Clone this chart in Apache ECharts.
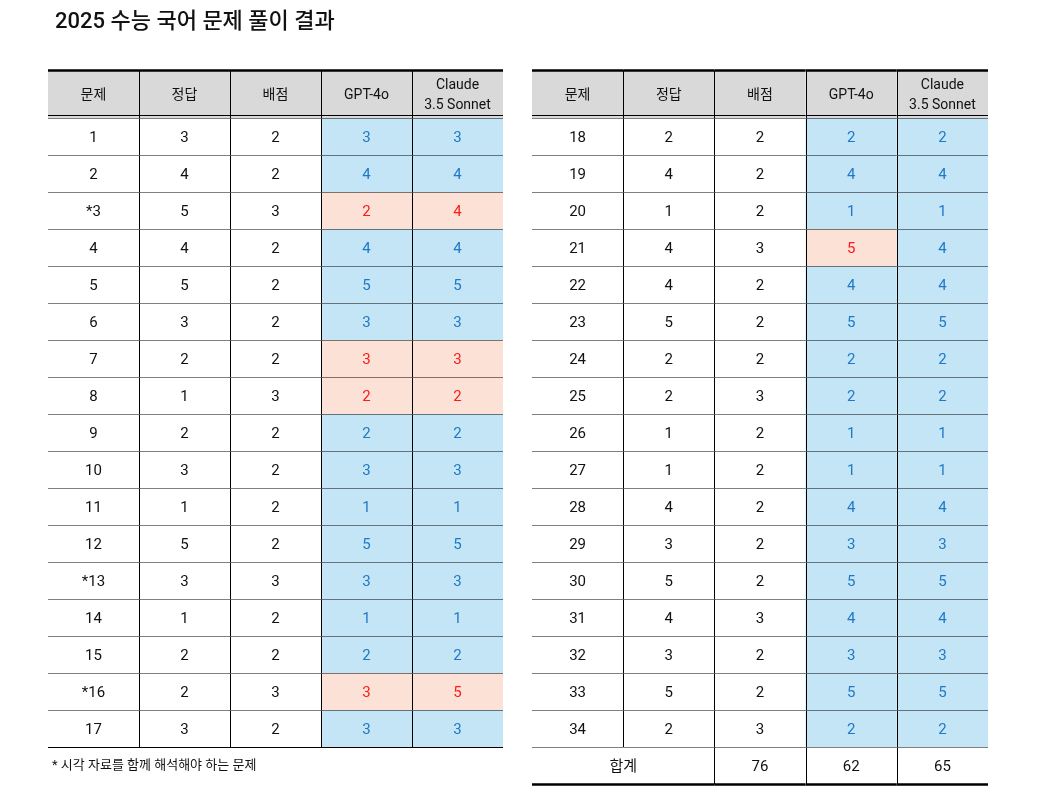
<!DOCTYPE html><html><head><meta charset="utf-8">
<script src="https://cdn.jsdelivr.net/npm/echarts@6/dist/echarts.min.js"></script>
<style>html,body{margin:0;background:#fff}#c{width:1042px;height:790px}</style></head><body><div id="c"></div>
<script>
const headers = ['문제','정답','배점','GPT-4o','Claude\n3.5 Sonnet'];
const leftQ = ['1','2','*3','4','5','6','7','8','9','10','11','12','*13','14','15','*16','17'];
const leftAns = [3,4,5,4,5,3,2,1,2,3,1,5,3,1,2,2,3];
const leftPts = [2,2,3,2,2,2,2,3,2,2,2,2,3,2,2,3,2];
const leftGpt = [3,4,2,4,5,3,3,2,2,3,1,5,3,1,2,3,3];
const leftClaude = [3,4,4,4,5,3,3,2,2,3,1,5,3,1,2,5,3];
const rightQ = ['18','19','20','21','22','23','24','25','26','27','28','29','30','31','32','33','34'];
const rightAns = [2,4,1,4,4,5,2,2,1,1,4,3,5,4,3,5,2];
const rightPts = [2,2,2,3,2,2,2,3,2,2,2,2,2,3,2,2,3];
const rightGpt = [2,4,1,5,4,5,2,2,1,1,4,3,5,4,3,5,2];
const rightClaude = [2,4,1,4,4,5,2,2,1,1,4,3,5,4,3,5,2];
const totalLabel = '합계';
const totals = [76,62,65];
const HEAD = 48/37;
const FONT = 'Roboto,"Noto Sans CJK KR","Noto Sans",sans-serif';

function build(Q,A,P,G,C,withTotal){
  const d=[];
  headers.forEach((h,i)=>d.push([i,i+1,-HEAD,0,h,'head']));
  Q.forEach((q,r)=>{
    d.push([0,1,r,r+1,q,'n']);d.push([1,2,r,r+1,String(A[r]),'n']);d.push([2,3,r,r+1,String(P[r]),'n']);
    d.push([3,4,r,r+1,String(G[r]),G[r]===A[r]?'ok':'bad']);
    d.push([4,5,r,r+1,String(C[r]),C[r]===A[r]?'ok':'bad']);
  });
  if(withTotal){const r=Q.length;
    d.push([0,2,r,r+1,totalLabel,'n']);
    totals.forEach((t,i)=>d.push([i+2,i+3,r,r+1,String(t),'tot']));}
  return d;
}
function renderItem(params,api){
  const c0=api.value(0),c1=api.value(1),r0=api.value(2),r1=api.value(3);
  const txt=api.value(4),kind=api.value(5);
  const p0=api.coord([c0,r0]),p1=api.coord([c1,r1]);
  const x=p0[0],y=p0[1]+0.5,w=p1[0]-p0[0],h=p1[1]-p0[1];
  const fill={head:'#d9d9d9',ok:'#c3e5f5',bad:'#fbe1d6'}[kind]||'#fff';
  const col={ok:'#1f78c8',bad:'#ff1a1a'}[kind]||'#111';
  const ch=[{type:'rect',shape:{x,y,width:w,height:h},style:{fill}},
    {type:'text',style:{text:txt,x:x+w/2,y:y+h/2+1,align:'center',verticalAlign:'middle',fill:col,
      font:(kind==='head'?'14px ':'15px ')+FONT,lineHeight:20}}];
  if(c0>0) ch.push({type:'line',shape:{x1:Math.round(x)+0.5,y1:y,x2:Math.round(x)+0.5,y2:y+h},style:{stroke:'#000',lineWidth:1}});
  const last=kind==='tot'||(kind==='n'&&txt===totalLabel);
  ch.push({type:'line',shape:{x1:x,y1:y+h,x2:x+w,y2:y+h},style:{stroke:'#000',lineWidth:last?2.5:1}});
  if(kind==='head'){
    ch.push({type:'line',shape:{x1:x,y1:y,x2:x+w,y2:y},style:{stroke:'#000',lineWidth:2.5}});
    ch.push({type:'line',shape:{x1:x,y1:y+h-3,x2:x+w,y2:y+h-3},style:{stroke:'#000',lineWidth:1}});
  }
  return {type:'group',children:ch};
}
function axes(n){return [{type:'value',min:0,max:5,show:false},{type:'value',min:-HEAD,max:n,inverse:true,show:false}];}
const chart=echarts.init(document.getElementById('c'));
const la=axes(17),ra=axes(18);
chart.setOption({
  animation:false,
  title:{text:'2025 수능 국어 문제 풀이 결과',left:50,top:6,textStyle:{fontFamily:FONT,fontSize:22,fontWeight:500,color:'#111'}},
  graphic:[{type:'text',left:52,top:759,style:{text:'* 시각 자료를 함께 해석해야 하는 문제',font:'13px '+FONT,fill:'#111'}}],
  grid:[{left:48,width:455,top:70,height:37*(17+HEAD)},{left:532,width:456,top:70,height:37*(18+HEAD)}],
  xAxis:[Object.assign(la[0],{gridIndex:0}),Object.assign(ra[0],{gridIndex:1})],
  yAxis:[Object.assign(la[1],{gridIndex:0}),Object.assign(ra[1],{gridIndex:1})],
  series:[
    {type:'custom',xAxisIndex:0,yAxisIndex:0,renderItem,data:build(leftQ,leftAns,leftPts,leftGpt,leftClaude,false)},
    {type:'custom',xAxisIndex:1,yAxisIndex:1,renderItem,data:build(rightQ,rightAns,rightPts,rightGpt,rightClaude,true)}
  ]
});
</script></body></html>
